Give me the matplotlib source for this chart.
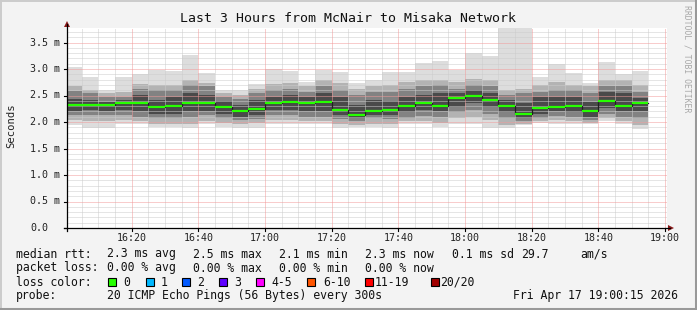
import numpy as np
import matplotlib
matplotlib.use("Agg")
import matplotlib.pyplot as plt
from matplotlib.patches import Rectangle, Polygon
from matplotlib.lines import Line2D

W, H = 697, 310
MONO = "DejaVu Sans Mono"

# ---------------- data (milliseconds), one value per 5-minute step from 16:00 ----------------
step_start_min = np.arange(35) * 5  # minutes after 16:00

median = [2.32, 2.32, 2.32, 2.36, 2.36, 2.29, 2.31, 2.36, 2.36, 2.28,
          2.20, 2.25, 2.36, 2.38, 2.36, 2.38, 2.23, 2.13, 2.21, 2.23,
          2.31, 2.36, 2.31, 2.45, 2.50, 2.42, 2.31, 2.16, 2.27, 2.29,
          2.31, 2.20, 2.40, 2.31, 2.35]
smoke_max = [3.04, 2.84, 2.60, 2.84, 2.90, 2.98, 2.96, 3.26, 2.93, 2.60,
             2.60, 2.72, 3.00, 2.97, 2.76, 2.98, 2.95, 2.73, 2.79, 2.95,
             2.95, 3.11, 3.16, 2.98, 3.31, 3.25, 3.85, 3.85, 2.84, 3.09,
             2.93, 2.73, 3.14, 2.90, 2.96]
band_b_hi = [2.67, 2.60, 2.54, 2.57, 2.71, 2.70, 2.70, 2.79, 2.73, 2.54,
             2.51, 2.63, 2.71, 2.73, 2.67, 2.79, 2.73, 2.63, 2.67, 2.70,
             2.76, 2.79, 2.79, 2.76, 2.82, 2.79, 2.60, 2.63, 2.70, 2.76,
             2.70, 2.67, 2.79, 2.79, 2.70]
band_c_hi = [2.58, 2.54, 2.48, 2.48, 2.63, 2.60, 2.60, 2.70, 2.67, 2.48,
             2.43, 2.54, 2.60, 2.63, 2.57, 2.67, 2.60, 2.51, 2.57, 2.57,
             2.63, 2.67, 2.70, 2.63, 2.70, 2.67, 2.51, 2.54, 2.57, 2.60,
             2.60, 2.54, 2.67, 2.67, 2.57]
band_d_hi = [2.43, 2.41, 2.38, 2.41, 2.51, 2.41, 2.48, 2.54, 2.51, 2.40,
             2.32, 2.41, 2.48, 2.51, 2.48, 2.54, 2.48, 2.32, 2.41, 2.40,
             2.48, 2.51, 2.54, 2.54, 2.60, 2.54, 2.41, 2.35, 2.48, 2.48,
             2.48, 2.38, 2.57, 2.54, 2.45]
band_d_lo = [2.21, 2.23, 2.21, 2.23, 2.20, 2.16, 2.16, 2.20, 2.21, 2.16,
             2.10, 2.13, 2.23, 2.23, 2.20, 2.21, 2.13, 2.07, 2.14, 2.14,
             2.18, 2.23, 2.20, 2.29, 2.35, 2.29, 2.18, 2.07, 2.16, 2.21,
             2.18, 2.10, 2.26, 2.21, 2.20]
band_c_lo = [2.13, 2.13, 2.13, 2.13, 2.10, 2.07, 2.07, 2.10, 2.13, 2.07,
             2.04, 2.06, 2.13, 2.13, 2.10, 2.10, 2.06, 2.01, 2.07, 2.06,
             2.08, 2.12, 2.10, 2.18, 2.23, 2.16, 2.07, 2.01, 2.08, 2.12,
             2.10, 2.04, 2.16, 2.10, 2.08]
band_b_lo = [2.04, 2.01, 2.01, 2.04, 2.02, 1.96, 1.97, 1.97, 2.01, 1.99,
             1.97, 1.99, 2.04, 2.04, 2.01, 2.01, 1.97, 1.94, 1.97, 1.96,
             2.01, 2.02, 1.99, 2.07, 2.10, 2.04, 1.94, 1.96, 2.01, 2.04,
             2.01, 1.99, 2.07, 2.01, 1.94]
smoke_min = [1.94, 1.89, 1.89, 1.97, 1.97, 1.90, 1.91, 1.89, 1.97, 1.91,
             1.89, 1.89, 1.97, 1.97, 1.96, 1.97, 1.88, 1.91, 1.91, 1.89,
             1.97, 1.97, 1.91, 1.97, 1.97, 1.89, 1.89, 1.94, 1.99, 1.97,
             1.96, 1.96, 2.01, 1.96, 1.87]

x_major = [20, 40, 60, 80, 100, 120, 140, 160, 180]
x_major_labels = ["16:20", "16:40", "17:00", "17:20", "17:40", "18:00", "18:20", "18:40", "19:00"]
y_major = [0.0, 0.5, 1.0, 1.5, 2.0, 2.5, 3.0, 3.5]
y_major_labels = ["0.0", "0.5 m", "1.0 m", "1.5 m", "2.0 m", "2.5 m", "3.0 m", "3.5 m"]

loss_labels = ["0", "1", "2", "3", "4-5", "6-10", "11-19", "20/20"]
loss_colors = ["#26ff00", "#00b8ff", "#0059ff", "#5e00ff", "#ff00ff", "#ff5500", "#ff0000", "#a10000"]

legend_rows = [
    [("median rtt:", 16), ("2.3 ms avg", 107), ("2.5 ms max", 193), ("2.1 ms min", 279),
     ("2.3 ms now", 365), ("0.1 ms sd", 452), ("29.7", 521), ("am/s", 580)],
    [("packet loss:", 16), ("0.00 % avg", 107), ("0.00 % max", 193), ("0.00 % min", 279),
     ("0.00 % now", 365)],
    [("loss color:", 16)],
    [("probe:", 16), ("20 ICMP Echo Pings (56 Bytes) every 300s", 107),
     ("Fri Apr 17 19:00:15 2026", 513)],
]
loss_square_x = [108, 146, 182, 219, 256, 307, 365, 431]
loss_text_x = [123, 161, 197, 234, 271, 323, 375, 440]

# ---------------- figure ----------------
fig = plt.figure(figsize=(W / 100, H / 100), dpi=100, facecolor="#f3f3f3")

def fx(px):
    return px / W

def fy(py):
    return 1 - py / H

# frame shading
fig.add_artist(Line2D([fx(0.5), fx(0.5)], [fy(0), fy(310)], color="#cbcbcb", lw=1.4))
fig.add_artist(Line2D([fx(0), fx(697)], [fy(0.5), fy(0.5)], color="#cbcbcb", lw=1.4))
fig.add_artist(Line2D([fx(695.5), fx(695.5)], [fy(0), fy(310)], color="#999999", lw=2.2))
fig.add_artist(Line2D([fx(0), fx(697)], [fy(308.5), fy(308.5)], color="#999999", lw=2.2))

X0, X1 = 67, 667
Y0, Y1 = 228, 28
ax = fig.add_axes([fx(X0), fy(Y0), (X1 - X0) / W, (Y0 - Y1) / H])
ax.set_facecolor("white")
ax.set_xlim(0.6, 180.6)
ax.set_ylim(0, (Y0 - Y1) / 53.0)
for s in ax.spines.values():
    s.set_visible(False)
ax.set_xticks([])
ax.set_yticks([])

# smoke
edges = np.append(step_start_min, step_start_min[-1] + 5)

def ext(a):
    a = np.asarray(a, dtype=float)
    return np.append(a, a[-1])

bands = [
    (smoke_min, smoke_max, "#dddddd"),
    (band_b_lo, band_b_hi, "#b3b3b3"),
    (band_c_lo, band_c_hi, "#828282"),
    (band_d_lo, band_d_hi, "#4a4a4a"),
]
for lo, hi, col in bands:
    ax.fill_between(edges, ext(lo), ext(hi), step="post", color=col, lw=0, zorder=1)

# grid
dot = (0, (1, 1))
for m in range(5, 181, 5):
    if m % 20 == 0:
        continue
    ax.axvline(m, color="#cccccc", lw=0.72, ls=dot, zorder=2)
for k in range(1, 38):
    v = k / 10
    if k % 5 == 0:
        continue
    ax.axhline(v, color="#cccccc", lw=0.72, ls=dot, zorder=2)
for m in x_major:
    ax.axvline(m, color="#f29a9a", lw=0.72, ls=dot, zorder=2)
for v in y_major[1:]:
    ax.axhline(v, color="#f29a9a", lw=0.72, ls=dot, zorder=2)

# median line
ax.step(edges, ext(median), where="post", color="#202020", lw=0.9, zorder=3)
ax.hlines(median, step_start_min, step_start_min + 5, color=loss_colors[0], lw=1.6, zorder=4)

# axes lines and arrows
fig.add_artist(Line2D([fx(X0), fx(X0)], [fy(Y0 + 3), fy(24)], color="black", lw=0.9))
fig.add_artist(Line2D([fx(X0 - 3), fx(670)], [fy(Y0), fy(Y0)], color="black", lw=0.9))
fig.add_artist(Polygon([[fx(X0 - 3), fy(27)], [fx(X0 + 3), fy(27)], [fx(X0), fy(21)]],
                       closed=True, transform=fig.transFigure, color="#8b1a1a", lw=0))
fig.add_artist(Polygon([[fx(668), fy(Y0 - 3)], [fx(668), fy(Y0 + 3)], [fx(674), fy(Y0)]],
                       closed=True, transform=fig.transFigure, color="#8b1a1a", lw=0))

# tick labels
for v, lab in zip(y_major, y_major_labels):
    py = Y0 - v * 53.0
    fig.text(fx(30), fy(py), lab, family=MONO, fontsize=7.2, ha="left", va="center", color="#222222")
    fig.add_artist(Line2D([fx(X0 - 3), fx(X0)], [fy(py), fy(py)], color="black", lw=0.8))
for m, lab in zip(x_major, x_major_labels):
    px = X0 + (m - 0.6) * 600 / 180
    fig.text(fx(px), fy(238), lab, family=MONO, fontsize=7.2, ha="center", va="center", color="#222222")
    fig.add_artist(Line2D([fx(px), fx(px)], [fy(Y0), fy(Y0 + 3)], color="black", lw=0.8))

# title and axis label
fig.text(fx(348), fy(19), "Last 3 Hours from McNair to Misaka Network", family=MONO,
         fontsize=9.5, ha="center", va="center", color="#111111")
fig.text(fx(11), fy(126), "Seconds", family=MONO, fontsize=7.6, rotation=90,
         ha="center", va="center", color="#222222")
fig.text(fx(687), fy(5), "RRDTOOL / TOBI OETIKER", family=MONO, fontsize=5.9, rotation=-90,
         ha="center", va="top", color="#a8a8a8")

# legend
row_y = [254, 268, 282, 296]
for row, py in zip(legend_rows, row_y):
    for txt, px in row:
        fig.text(fx(px), fy(py), txt, family=MONO, fontsize=8.3, ha="left", va="center",
                 color="#111111")
for sx, tx, lab, col in zip(loss_square_x, loss_text_x, loss_labels, loss_colors):
    fig.add_artist(Rectangle((fx(sx), fy(286)), 8 / W, 8 / H, transform=fig.transFigure,
                             facecolor=col, edgecolor="black", lw=0.8))
    fig.text(fx(tx), fy(282), lab, family=MONO, fontsize=8.3, ha="left", va="center",
             color="#111111")

fig.savefig("out.png", dpi=100, facecolor=fig.get_facecolor())
